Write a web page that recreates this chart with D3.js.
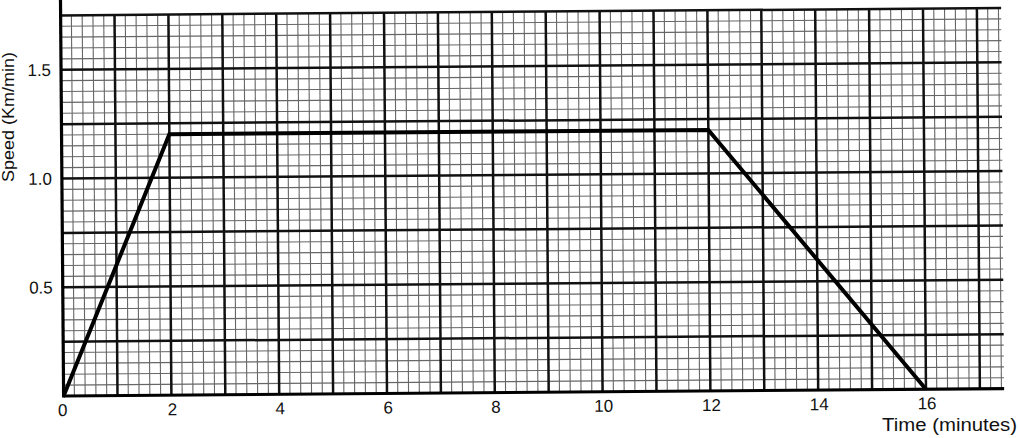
<!DOCTYPE html>
<html>
<head>
<meta charset="utf-8">
<script src="https://cdn.jsdelivr.net/npm/d3@7/dist/d3.min.js"></script>
<style>
  html, body { margin: 0; padding: 0; background: #fff; }
  svg { display: block; }
  text { font-family: "Liberation Sans", Arial, Helvetica, sans-serif; fill: #111; }
</style>
</head>
<body>
<svg id="chart" width="1020" height="438"></svg>
<script>
// ---- data ----
const timeMinutes = [0, 2, 12, 16];
const speedKmPerMin = [0, 1.2, 1.2, 0];
const xTickValues = [0, 2, 4, 6, 8, 10, 12, 14, 16];
const yTickValues = [0.5, 1.0, 1.5];
const xAxisTitle = "Time (minutes)";
const yAxisTitle = "Speed (Km/min)";

const W = 1020, H = 438;
const svg = d3.select("#chart");

const x0 = 63.6, y0 = 396;
const xMax = 17.45, yMax = 1.75;
const x = d3.scaleLinear().domain([0, xMax]).range([x0, x0 + xMax * 53.9]);
const y = d3.scaleLinear().domain([0, yMax]).range([y0, y0 - yMax * 217.5]);

// whole sheet slightly rotated like the scanned original
const g = svg.append("g").attr("transform", `rotate(-0.45, ${x0}, ${y0})`);

// minor grid
const xMinor = d3.range(0, xMax + 1e-9, 0.2).map(v => +v.toFixed(2)).filter(v => Math.abs(v - Math.round(v)) > 1e-6);
const yMinor = d3.range(0, yMax + 1e-9, 0.05).map(v => +v.toFixed(2)).filter(v => Math.abs(v / 0.25 - Math.round(v / 0.25)) > 1e-6);
const xMajor = d3.range(1, Math.floor(xMax) + 1);
const yMajor = d3.range(0.25, yMax + 1e-9, 0.25).map(v => +v.toFixed(2));

g.append("g").selectAll("line").data(xMinor).join("line")
  .attr("x1", d => x(d)).attr("x2", d => x(d))
  .attr("y1", y(0)).attr("y2", y(yMax))
  .attr("stroke", "#666").attr("stroke-width", 1.1);
g.append("g").selectAll("line").data(yMinor).join("line")
  .attr("y1", d => y(d)).attr("y2", d => y(d))
  .attr("x1", x(0)).attr("x2", x(xMax))
  .attr("stroke", "#666").attr("stroke-width", 1.1);

// major grid
g.append("g").selectAll("line").data(xMajor).join("line")
  .attr("x1", d => x(d)).attr("x2", d => x(d))
  .attr("y1", y(0)).attr("y2", y(yMax))
  .attr("stroke", "#111").attr("stroke-width", 2.5);
g.append("g").selectAll("line").data(yMajor).join("line")
  .attr("y1", d => y(d)).attr("y2", d => y(d))
  .attr("x1", x(0)).attr("x2", x(xMax))
  .attr("stroke", "#111").attr("stroke-width", 2.5);

// axes lines
g.append("line").attr("x1", x(0)).attr("x2", x(xMax)).attr("y1", y(0)).attr("y2", y(0))
  .attr("stroke", "#000").attr("stroke-width", 3.2);
g.append("line").attr("x1", x(0)).attr("x2", x(0)).attr("y1", y(0) + 1.5).attr("y2", y(yMax) - 20)
  .attr("stroke", "#000").attr("stroke-width", 3.2);

// tick labels
g.append("g").selectAll("text").data(xTickValues).join("text")
  .attr("x", d => x(d) + (d === 0 ? -1 : 1))
  .attr("y", y(0) + 20)
  .attr("text-anchor", "middle")
  .attr("font-size", 17)
  .text(d => d3.format("d")(d));
g.append("g").selectAll("text").data(yTickValues).join("text")
  .attr("x", x(0) - 10)
  .attr("y", d => y(d) + 6)
  .attr("text-anchor", "end")
  .attr("font-size", 17)
  .text(d => d3.format(".1f")(d));

// data line
const line = d3.line().x(d => x(d[0])).y(d => y(d[1]));
g.append("path")
  .datum(timeMinutes.map((t, i) => [t, speedKmPerMin[i]]))
  .attr("d", line)
  .attr("fill", "none").attr("stroke", "#000")
  .attr("stroke-width", 4).attr("stroke-linejoin", "miter");

// axis titles
svg.append("text")
  .attr("x", 882).attr("y", 431)
  .attr("font-size", 17.5)
  .attr("textLength", 135).attr("lengthAdjust", "spacingAndGlyphs")
  .text(xAxisTitle);
svg.append("text")
  .attr("transform", "translate(13.5,117) rotate(-90)")
  .attr("text-anchor", "middle")
  .attr("font-size", 16.5)
  .attr("textLength", 130).attr("lengthAdjust", "spacingAndGlyphs")
  .text(yAxisTitle);
</script>
</body>
</html>
